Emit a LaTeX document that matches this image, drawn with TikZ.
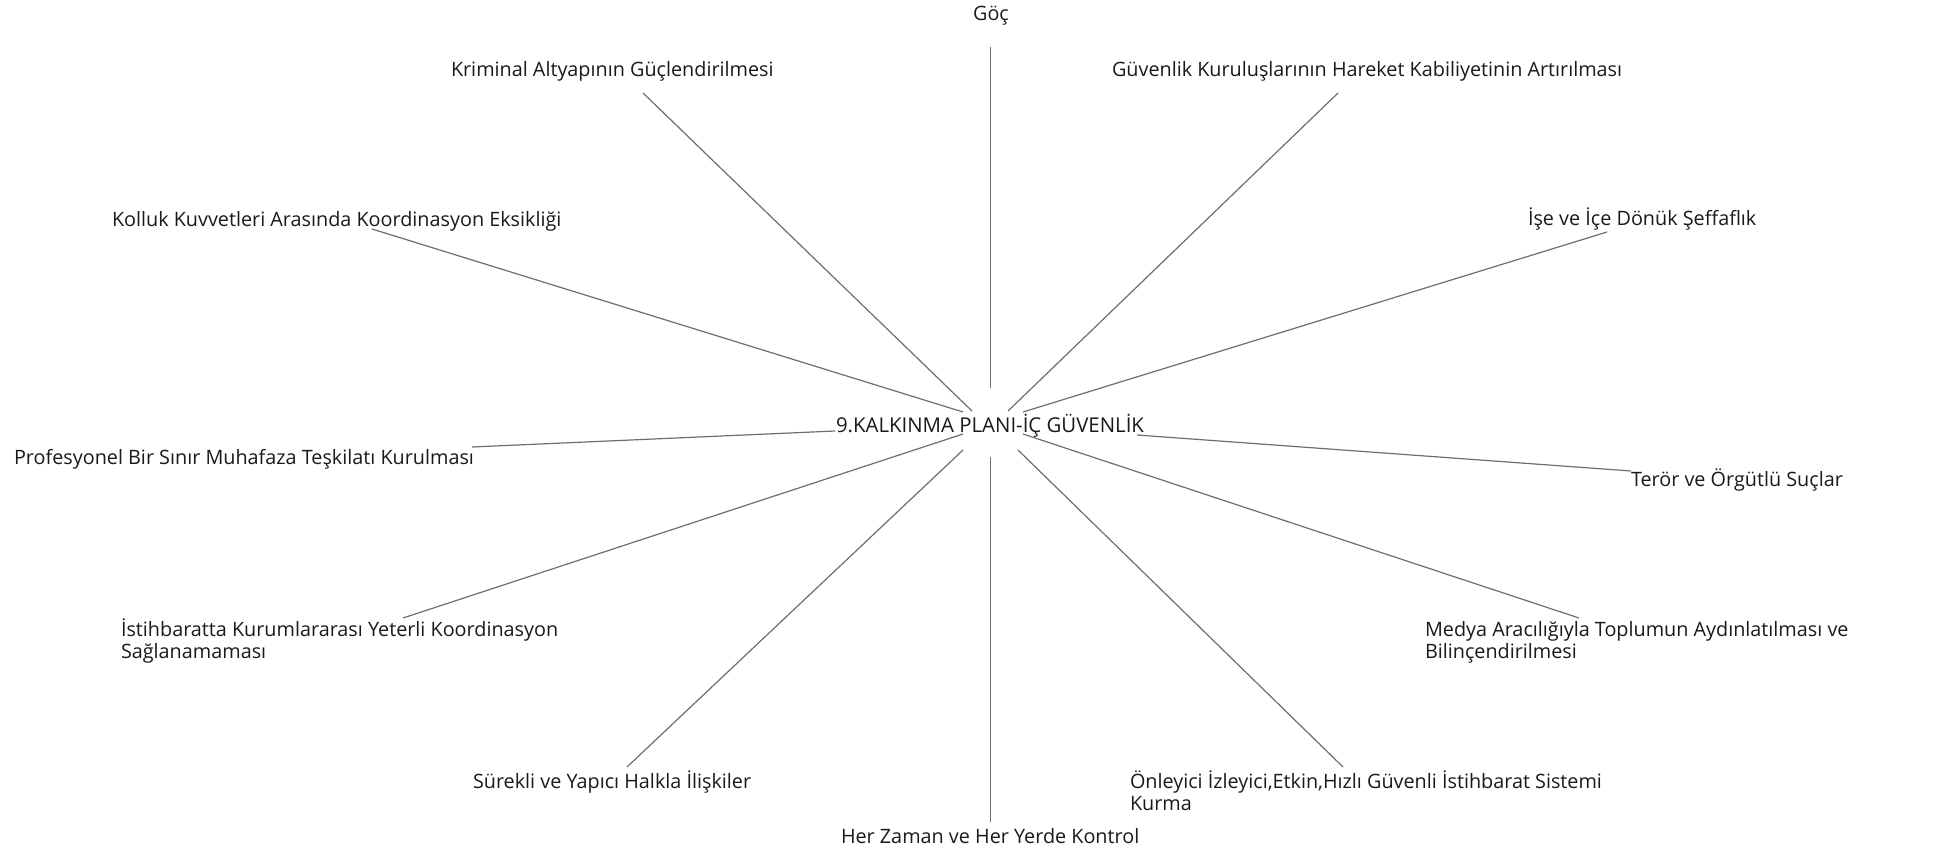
\documentclass[tikz,border=0pt]{standalone}
\usepackage{fontspec}
\setmainfont{Open Sans}
\definecolor{linegray}{HTML}{6E6E6E}
\definecolor{txt}{HTML}{1A1A1A}
\newcommand{\twolines}[2]{\vtop{\hbox{#1}\hbox{#2}}}
\begin{document}
\begin{tikzpicture}[x=0.5pt,y=-0.5pt,
  lbl/.style={inner sep=0pt, outer sep=0pt, font=\fontsize{9.9}{11}\selectfont, text=txt},
  hub/.style={lbl, font=\fontsize{10.2}{11}\selectfont},
  conn/.style={draw=linegray, line width=0.6pt}]
\useasboundingbox (0,0) rectangle (1943,851);
\fill[white] (0,0) rectangle (1943,851);

% centre
\node[hub, anchor=base west] (center) at (836,432) {9.KALKINMA PLANI-İÇ GÜVENLİK};

% labels
\node[lbl, anchor=base] (goc) at (991,20) {Göç};
\node[lbl, anchor=base west] (krim) at (451,76) {Kriminal Altyapının Güçlendirilmesi};
\node[lbl, anchor=base west] (guv) at (1112,76) {Güvenlik Kuruluşlarının Hareket Kabiliyetinin Artırılması};
\node[lbl, anchor=base west] (kol) at (112,226) {Kolluk Kuvvetleri Arasında Koordinasyon Eksikliği};
\node[lbl, anchor=base west] (ise) at (1528,225) {İşe ve İçe Dönük Şeffaflık};
\node[lbl, anchor=base west] (pro) at (14,464) {Profesyonel Bir Sınır Muhafaza Teşkilatı Kurulması};
\node[lbl, anchor=base west] (ter) at (1631,486) {Terör ve Örgütlü Suçlar};
\node[lbl, anchor=base west] (ist) at (121,636) {\twolines{İstihbaratta Kurumlararası Yeterli Koordinasyon}{Sağlanamaması}};
\node[lbl, anchor=base west] (med) at (1425,636) {\twolines{Medya Aracılığıyla Toplumun Aydınlatılması ve}{Bilinçendirilmesi}};
\node[lbl, anchor=base west] (sur) at (473,788) {Sürekli ve Yapıcı Halkla İlişkiler};
\node[lbl, anchor=base west] (onl) at (1130,788) {\twolines{Önleyici İzleyici,Etkin,Hızlı Güvenli İstihbarat Sistemi}{Kurma}};
\node[lbl, anchor=base west] (her) at (841,843) {Her Zaman ve Her Yerde Kontrol};

% connector end points
\coordinate (goc-a) at (990.5,47);   \coordinate (goc-b) at (990.5,388);
\coordinate (krim-a) at (643,93);  \coordinate (krim-b) at (972,411);
\coordinate (guv-a) at (1338,93);  \coordinate (guv-b) at (1008,411);
\coordinate (kol-a) at (372,229);  \coordinate (kol-b) at (963,412);
\coordinate (ise-a) at (1607,232); \coordinate (ise-b) at (1023,412);
\coordinate (pro-a) at (472,447);  \coordinate (pro-b) at (835,431);
\coordinate (ter-a) at (1631,471); \coordinate (ter-b) at (1137,435);
\coordinate (ist-a) at (403,618);  \coordinate (ist-b) at (963,434);
\coordinate (med-a) at (1579,618); \coordinate (med-b) at (1023,434);
\coordinate (sur-a) at (627,767);  \coordinate (sur-b) at (963,450);
\coordinate (onl-a) at (1343,767); \coordinate (onl-b) at (1018,450);
\coordinate (her-a) at (990.5,822);  \coordinate (her-b) at (990.5,457);

\foreach \n in {goc,krim,guv,kol,ise,pro,ter,ist,med,sur,onl,her}
  \draw[conn] (\n-a) -- (\n-b);
\end{tikzpicture}
\end{document}
